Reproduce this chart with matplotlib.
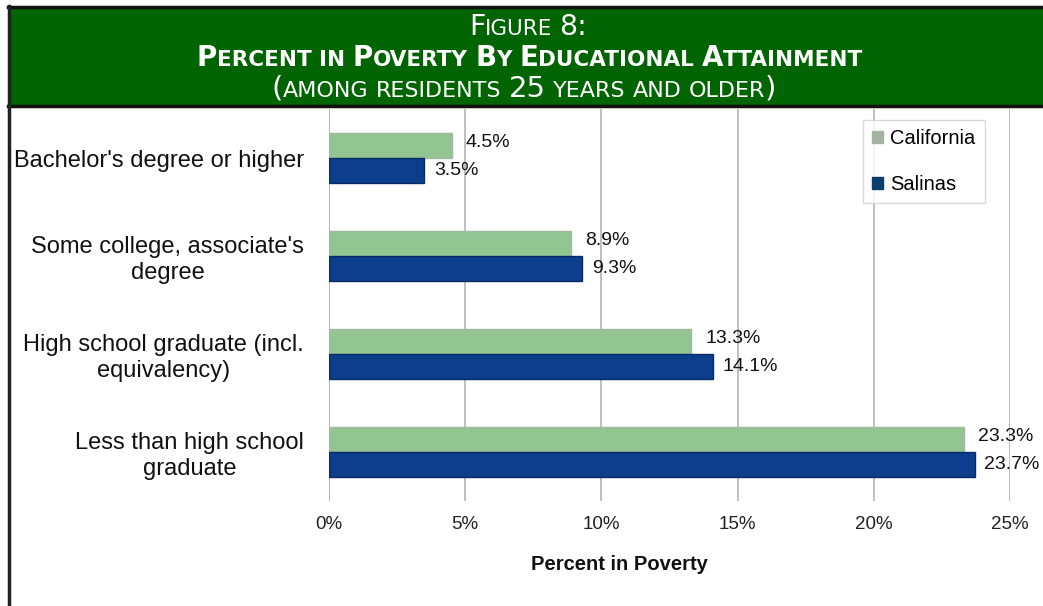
import matplotlib
matplotlib.use("Agg")
import matplotlib.pyplot as plt
from matplotlib.patches import Rectangle
from matplotlib.lines import Line2D
import numpy as np

# data
categories = ["Bachelor's degree or higher",
              "Some college, associate's\ndegree",
              "High school graduate (incl.\nequivalency)",
              "Less than high school\ngraduate"]
california = [4.5, 8.9, 13.3, 23.3]
salinas = [3.5, 9.3, 14.1, 23.7]
xticks = [0, 5, 10, 15, 20, 25]

W, H = 1043, 606
fig = plt.figure(figsize=(W / 100, H / 100), dpi=100)
plt.rcParams['font.family'] = ['Liberation Sans', 'DejaVu Sans']


def px(x0, y0, x1, y1):
    # pixel box (top-left origin) -> figure fraction rect
    return [x0 / W, 1 - y1 / H, (x1 - x0) / W, (y1 - y0) / H]


# header band
fig.patches.append(Rectangle((8 / W, 1 - 106 / H), 1 - 8 / W, 100 / H,
                             transform=fig.transFigure, facecolor='#006400',
                             edgecolor='none', zorder=0))
fig.add_artist(Line2D([8 / W, 1], [1 - 6.5 / H] * 2, color='#111111', lw=2.5))
fig.add_artist(Line2D([8 / W, 1], [1 - 106 / H] * 2, color='#111111', lw=2.5))
fig.add_artist(Line2D([8.5 / W] * 2, [0, 1 - 6 / H], color='#222222', lw=2.5))

renderer = fig.canvas.get_renderer()


def small_caps(text, y_px, big, small, weight='normal', xc=527):
    # draw text in small caps, centered at xc (pixels)
    runs = []
    for ch in text:
        kind = 'small' if ch.islower() else 'big'
        if ch == ' ':
            kind = 'space'
        if runs and runs[-1][1] == kind:
            runs[-1][0] += ch
        else:
            runs.append([ch, kind])
    pieces = []
    total = 0
    for s, kind in runs:
        if kind == 'space':
            t1 = fig.text(0, 0, 'n n', fontsize=small, fontweight=weight, family='DejaVu Sans')
            t2 = fig.text(0, 0, 'nn', fontsize=small, fontweight=weight, family='DejaVu Sans')
            w = (t1.get_window_extent(renderer).width - t2.get_window_extent(renderer).width) * len(s)
            t1.remove()
            t2.remove()
            pieces.append((None, w))
        else:
            size = small if kind == 'small' else big
            t = fig.text(0, 1 - y_px / H, s.upper(), fontsize=size, fontweight=weight,
                         color='white', family='DejaVu Sans', va='baseline', ha='left')
            w = t.get_window_extent(renderer).width
            pieces.append((t, w))
        total += pieces[-1][1]
    x = xc - total / 2
    for t, w in pieces:
        if t is not None:
            t.set_x(x / W)
        x += w


small_caps("Figure 8:", 35, 20.5, 15.5, xc=528)
small_caps("Percent in Poverty By Educational Attainment", 66, 20, 15.5, weight='bold', xc=530)
small_caps("(among residents 25 years and older)", 97, 21, 16, xc=524)

# chart
ax = fig.add_axes(px(329, 109, 1010, 501))
y = np.arange(len(categories))
h = 0.255
ax.barh(y - h / 2, california, height=h, color='#93c592', edgecolor='#a3b8a3',
        linewidth=1, label='California', zorder=3)
ax.barh(y + h / 2, salinas, height=h, color='#0c3e8c', edgecolor='#0a2c66',
        linewidth=1, label='Salinas', zorder=3)

for yi, v in zip(y, california):
    ax.annotate(f"{v}%", (v, yi - h / 2), xytext=(10, 2), textcoords='offset points',
                va='center', ha='left', fontsize=14, color='#111111')
for yi, v in zip(y, salinas):
    ax.annotate(f"{v}%", (v, yi + h / 2), xytext=(7, 0), textcoords='offset points',
                va='center', ha='left', fontsize=14, color='#111111')

ax.set_xlim(0, 25)
ax.set_ylim(3.5, -0.5)
ax.set_xticks(xticks)
ax.set_xticklabels([f"{t}%" for t in xticks], fontsize=13.5, color='#222222')
ax.tick_params(axis='x', length=0, pad=11)
ax.set_yticks(y)
ax.set_yticklabels(categories, fontsize=17, multialignment='center', color='#111111')
ax.tick_params(axis='y', length=0, pad=18)
for s in ax.spines.values():
    s.set_visible(False)
ax.grid(axis='x', color='#b4b4b4', linewidth=1.2, zorder=0)
ax.axvline(0, color='#b4b4b4', linewidth=1.2, zorder=1)

fig.text(619 / W, 1 - 565 / H, "Percent in Poverty", fontsize=14.5, fontweight='bold',
         ha='center', va='center', color='#111111')

leg = ax.legend(loc='upper left', frameon=True, fancybox=False,
                fontsize=14.5, handlelength=0.55, handleheight=0.55, handletextpad=0.35,
                labelspacing=1.35, borderpad=0.45, borderaxespad=0)
leg.get_frame().set_edgecolor('#d0d0d0')
leg.get_frame().set_linewidth(1)
leg.set_bbox_to_anchor((863 / W, 1 - 120 / H), transform=fig.transFigure)
leg.legend_handles[0].set_color('#a5b3a3')
leg.legend_handles[1].set_color('#0c3e6c')

fig.savefig("out.png", dpi=100)
